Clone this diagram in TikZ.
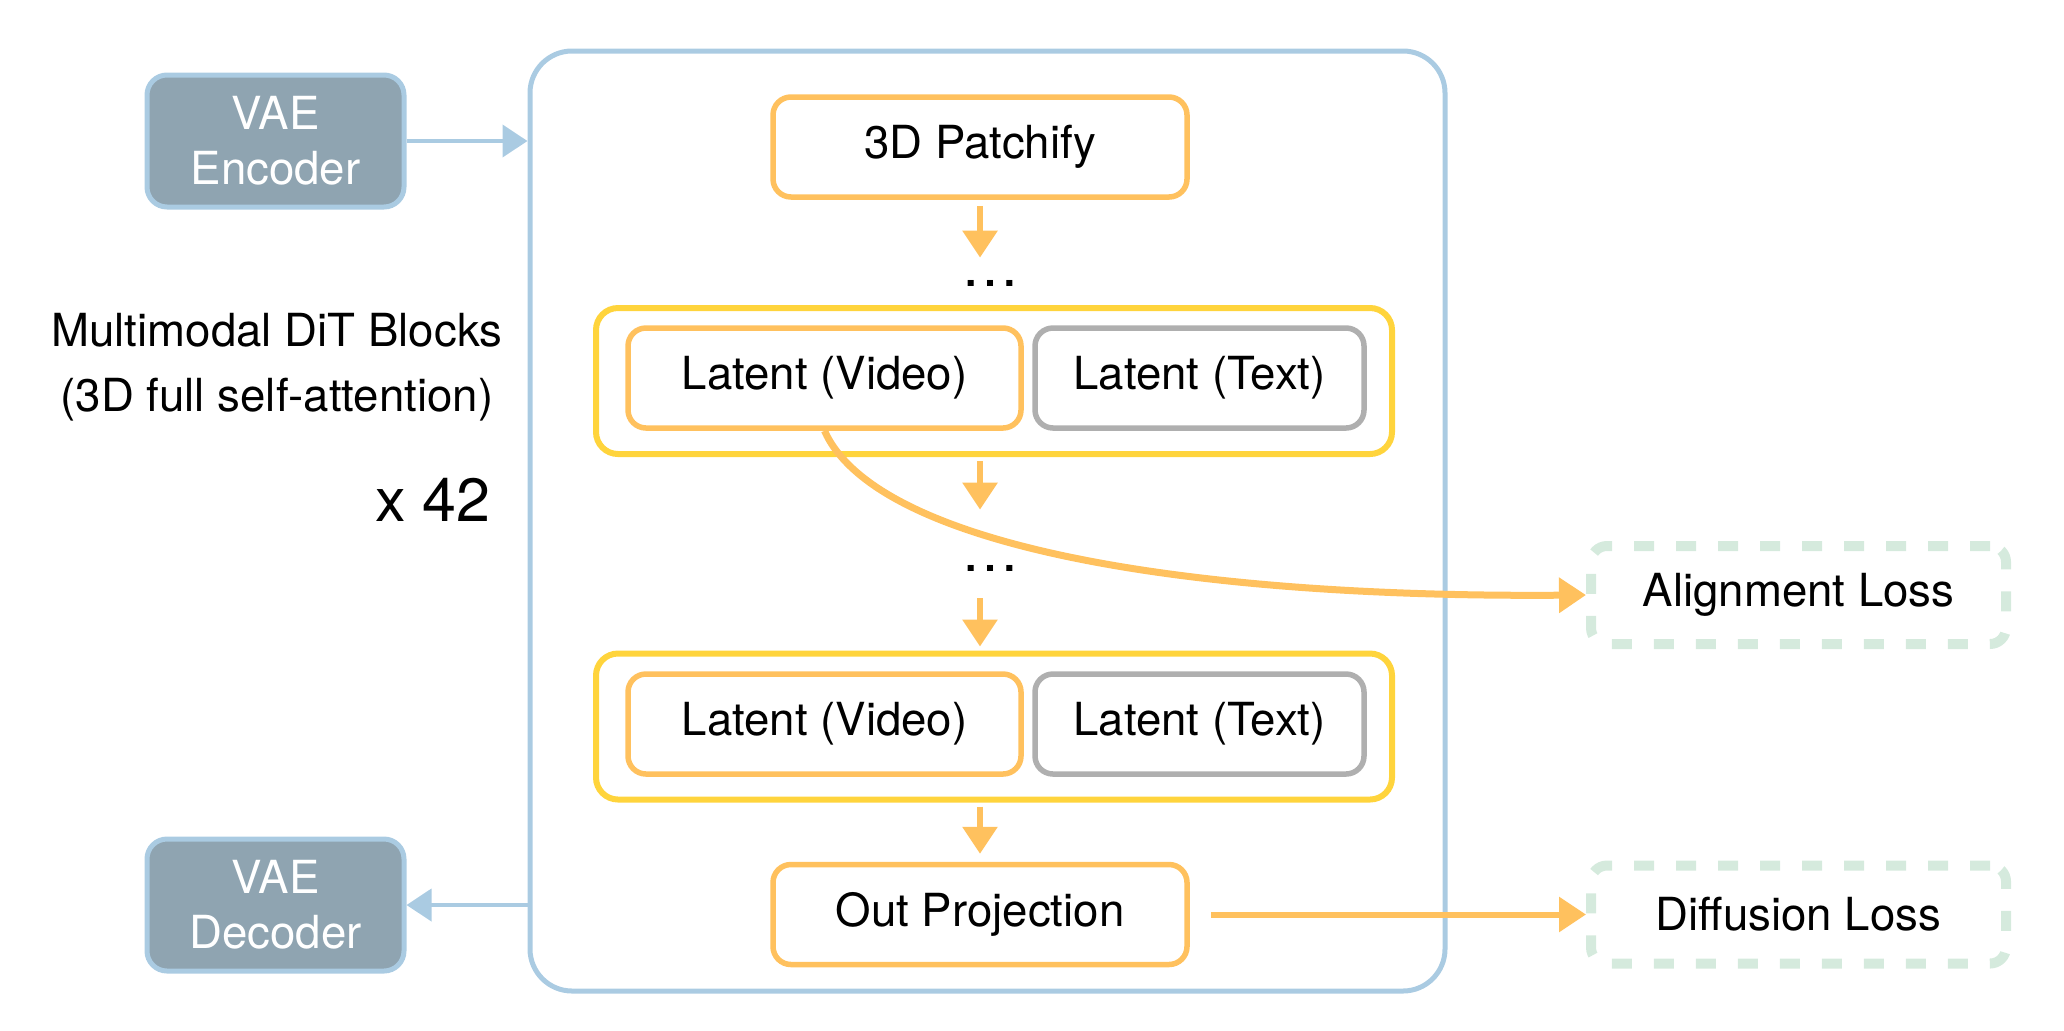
\documentclass[tikz,border=0pt]{standalone}
\usepackage{fontspec}
\setmainfont{TeX Gyre Heros}
\usetikzlibrary{arrows.meta}
\definecolor{bblue}{HTML}{AACBE2}
\definecolor{vaefill}{HTML}{8FA4B1}
\definecolor{orng}{HTML}{FFC15E}
\definecolor{yel}{HTML}{FFD43C}
\definecolor{gry}{HTML}{AFAFAF}
\definecolor{grn}{HTML}{D5EADD}
\begin{document}
\begin{tikzpicture}[x=0.5pt,y=-0.5pt,
  lbl/.style={font=\fontsize{22.8}{27.4}\selectfont},
  vae/.style={draw=bblue,fill=vaefill,line width=2.5pt,rounded corners=10pt,text=white,align=center,
    minimum width=128.5pt,minimum height=66pt,inner sep=0pt,lbl},
  obox/.style={draw=orng,line width=2.75pt,rounded corners=9pt,minimum height=50pt,inner sep=0pt,lbl},
  gbox/.style={draw=gry,line width=2.75pt,rounded corners=9pt,minimum height=50pt,inner sep=0pt,lbl},
  yblock/.style={draw=yel,line width=3pt,rounded corners=11pt,minimum width=398pt,minimum height=73pt,inner sep=0pt},
  lossbox/.style={draw=grn,line width=5pt,dash pattern=on 10pt off 11pt,rounded corners=8pt,
    minimum width=207.5pt,minimum height=49pt,inner sep=0pt,lbl},
  dotsn/.style={inner sep=0pt,text height=3.5pt,text depth=0pt,font=\fontsize{29}{34}\selectfont},
  oarr/.style={draw=orng,line width=3pt,-{Triangle[length=13.5pt,width=17pt]}},
  barr/.style={draw=bblue,line width=2pt,-{Triangle[length=12.5pt,width=16pt]}}
]
\useasboundingbox (0,0) rectangle (2064,1030);

% big DiT container
\node[draw=bblue,line width=2.5pt,rounded corners=21pt,minimum width=457.5pt,minimum height=470pt,inner sep=0pt] (dit) at (987.5,521) {};

% VAE boxes
\node[vae] (enc) at (275.5,141) {VAE\\Encoder};
\node[vae] (dec) at (275.5,905) {VAE\\Decoder};

% left labels
\node[lbl,anchor=base] (l1) at (277,346) {Multimodal DiT Blocks};
\node[lbl,anchor=base] (l2) at (277,411) {(3D full self-attention)};
\node[anchor=base east,inner sep=0pt,font=\fontsize{30.5}{36}\selectfont] (l3) at (491,521) {x 42};

% column
\node[obox,minimum width=207pt] (patch) at (980,147) {3D Patchify};
\node[dotsn] (d1) at (990,283) {\textellipsis};

\node[yblock] (blk1) at (994,381) {};
\node[obox,minimum width=196.5pt] (v1) at (824.5,378) {Latent (Video)};
\node[gbox,minimum width=164.5pt] (t1) at (1199.5,378) {Latent (Text)};

\node[dotsn] (d2) at (990,568) {\textellipsis};

\node[yblock] (blk2) at (994,726.5) {};
\node[obox,minimum width=196.5pt] (v2) at (824.5,724) {Latent (Video)};
\node[gbox,minimum width=164.5pt] (t2) at (1199.5,724) {Latent (Text)};

\node[obox,minimum width=207pt] (op) at (980,914.5) {Out Projection};

% losses
\node[lossbox] (al) at (1798.5,595) {Alignment Loss};
\node[lossbox] (df) at (1798.5,914.5) {Diffusion Loss};

% arrows in column
\draw[oarr,shorten <=3pt,shorten >=10.75pt] (patch.south) -- (patch.south |- d1.north);
\draw[oarr,shorten <=2pt,shorten >=27.25pt] (patch.south |- blk1.south) -- (patch.south |- d2.north);
\draw[oarr,shorten <=13.25pt,shorten >=2pt] (patch.south |- d2.south) -- (patch.south |- blk2.north);
\draw[oarr,shorten <=2pt,shorten >=4pt] (patch.south |- blk2.south) -- (op.north);

% loss arrows
\draw[oarr,line width=3.5pt] (v1.south) .. controls (875,545) and (1180,598) .. (al.west);
\draw[oarr,shorten <=10.5pt] (op.east) -- (df.west);

% VAE arrows
\draw[barr] (enc.east) -- (enc.east -| dit.west);
\draw[barr] (dec.east -| dit.west) -- (dec.east);
\end{tikzpicture}
\end{document}
